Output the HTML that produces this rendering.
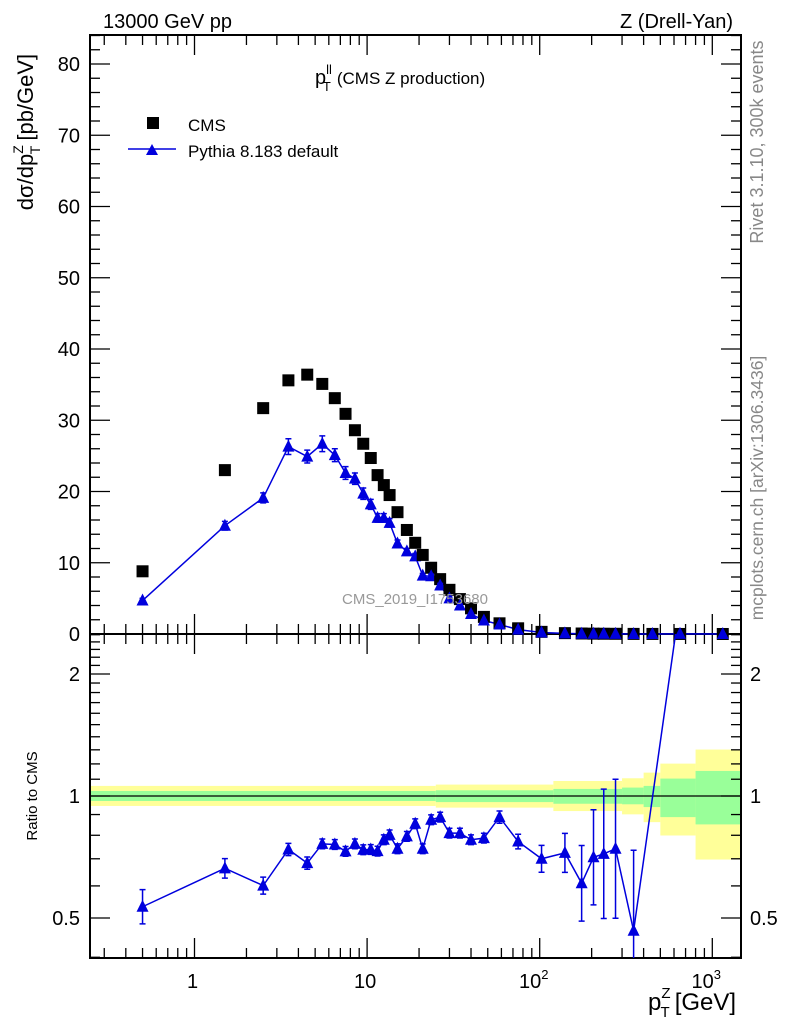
<!DOCTYPE html>
<html><head><meta charset="utf-8"><style>
body{margin:0;background:#fff;}
svg{display:block;font-family:"Liberation Sans",Arial,sans-serif;}
</style></head><body>
<svg id="chart" width="786" height="1024" viewBox="0 0 786 1024" xmlns="http://www.w3.org/2000/svg">
<g id="bands"></g>
<g id="grid"></g>
<g id="marks"></g>
<g>
<text x="103" y="28" font-size="20">13000 GeV pp</text>
<text x="733" y="28" font-size="20" text-anchor="end">Z (Drell-Yan)</text>
<text x="315" y="84" font-size="20">p<tspan font-size="13" dy="-10">ll</tspan><tspan font-size="13" dx="-9" dy="17">T</tspan><tspan font-size="17" dy="-7" dx="6">(CMS Z production)</tspan></text>
<rect x="147" y="117" width="12" height="12" fill="#000"/>
<text x="188" y="131" font-size="17">CMS</text>
<line x1="128" y1="149" x2="176" y2="149" stroke="#0000dd" stroke-width="1.5"/>
<path d="M146,155 L158,155 L152,144 Z" fill="#0000dd"/>
<text x="188" y="157" font-size="17">Pythia 8.183 default</text>
<text transform="translate(33,132) rotate(-90)" font-size="22" text-anchor="middle">dσ/dp<tspan font-size="14" dy="-10">Z</tspan><tspan font-size="14" dx="-9" dy="17">T</tspan><tspan dy="-7" dx="5">[pb/GeV]</tspan></text>
<text transform="translate(37,796) rotate(-90)" font-size="15" text-anchor="middle">Ratio to CMS</text>
<text transform="translate(763,142) rotate(-90)" font-size="18" fill="#888" text-anchor="middle">Rivet 3.1.10,  300k events</text>
<text transform="translate(763,488) rotate(-90)" font-size="17.5" fill="#888" text-anchor="middle">mcplots.cern.ch [arXiv:1306.3436]</text>
<text x="415" y="604" font-size="15" fill="#999" text-anchor="middle">CMS_2019_I1753680</text>
<text x="648" y="1010" font-size="24">p<tspan font-size="15" dy="-12">Z</tspan><tspan font-size="15" dx="-10" dy="19">T</tspan><tspan dy="-7" dx="5">[GeV]</tspan></text>
</g>
</svg>
<script>
const xCenters=[0.5,1.5,2.5,3.5,4.5,5.5,6.5,7.5,8.5,9.5,10.5,11.5,12.5,13.5,15,17,19,21,23.5,26.5,30,34.5,40,47.5,58.5,75,102.5,140,175,205,235,275,350,450,650,1150];
const cmsValues=[8.8,23.0,31.7,35.6,36.4,35.1,33.1,30.9,28.6,26.7,24.7,22.3,20.9,19.5,17.1,14.6,12.8,11.1,9.3,7.7,6.2,4.9,3.6,2.4,1.5,0.8,0.3,0.12,0.07,0.05,0.04,0.03,0.015,0.01,0.005,0.002];
const pythiaValues=[4.7,15.2,19.1,26.3,24.9,26.7,25.1,22.6,21.8,19.7,18.2,16.3,16.3,15.6,12.7,11.6,10.9,8.2,8.1,6.8,5.0,4.0,2.8,1.9,1.33,0.62,0.21,0.087,0.043,0.035,0.029,0.022,0.007,0.004,0.015,0.003];
const pythiaErr=[0.3,0.6,0.7,1.1,0.9,1.1,0.9,0.9,0.8,0.8,0.7,0.6,0.6,0.6,0.5,0.4,0.4,0.3,0.3,0.3,0.2,0.2,0.1,0.1,0.05,0.03,0.02,0.01,0.01,0.01,0.01,0.01,0.005,0.005,0.01,0.005];
const ratioValues=[0.533,0.663,0.601,0.738,0.683,0.762,0.759,0.730,0.762,0.737,0.738,0.731,0.780,0.802,0.741,0.795,0.854,0.741,0.874,0.887,0.810,0.810,0.780,0.787,0.887,0.772,0.700,0.724,0.609,0.706,0.720,0.741,0.465,null,3.0,null];
const ratioErrLog2=[0.14,0.08,0.07,0.05,0.05,0.04,0.04,0.04,0.04,0.04,0.04,0.04,0.04,0.04,0.04,0.04,0.04,0.04,0.04,0.04,0.04,0.04,0.04,0.04,0.05,0.06,0.11,0.16,0.31,0.39,0.53,0.57,0.66,0,0,0];
const bandEdges=[0.25,25,120,300,400,500,800,1500];
const yellowLo=[0.945,0.936,0.918,0.901,0.862,0.799,0.697];
const yellowHi=[1.059,1.067,1.089,1.106,1.142,1.202,1.302];
const greenLo=[0.972,0.966,0.957,0.954,0.939,0.887,0.851];
const greenHi=[1.029,1.033,1.041,1.049,1.059,1.104,1.153];
const mainTicks=[0,10,20,30,40,50,60,70,80];
const ratioTicks=[0.5,1,2];
const ratioTickLabels=["0.5","1","2"];

const NS="http://www.w3.org/2000/svg";
const L=90,R=741,T=35,M=634,B=958;
const X=v=>194.5+(Math.log10(v))*172.6;
const Y=v=>M-v*7.125;
const YR=v=>796-Math.log2(v)*122;
function mk(parent,tag,attrs){const e=document.createElementNS(NS,tag);for(const k in attrs)e.setAttribute(k,attrs[k]);parent.appendChild(e);return e;}
const g=document.getElementById('grid'),m=document.getElementById('marks'),bd=document.getElementById('bands');

for(let i=0;i<yellowLo.length;i++){
  const x1=Math.max(L,X(bandEdges[i])),x2=Math.min(R,X(bandEdges[i+1]));
  let r=mk(bd,'rect',{x:x1,y:YR(yellowHi[i]),width:x2-x1,height:YR(yellowLo[i])-YR(yellowHi[i]),fill:'#ffff99'});
  
  
  r=mk(bd,'rect',{x:x1,y:YR(greenHi[i]),width:x2-x1,height:YR(greenLo[i])-YR(greenHi[i]),fill:'#99ff99'});
  
  
}
let one=mk(g,'line',{x1:L,x2:R,y1:YR(1),y2:YR(1),stroke:'#000','stroke-width':1.2});



for(const [y1,y2,n] of [[T,M,'main-frame'],[M,B,'ratio-frame']]){
  const f=mk(g,'rect',{x:L,y:y1,width:R-L,height:y2-y1,fill:'none',stroke:'#000','stroke-width':2});
  
  
}
for(let d=-1;d<=3;d++)for(let k=1;k<10;k++){
  const v=k*Math.pow(10,d),x=X(v);if(x<L||x>R)continue;
  const len=k==1?20:10;
  for(const [y0,dir] of [[T,1],[M,-1],[M,1],[B,-1]]){
    mk(g,'line',{x1:x,x2:x,y1:y0,y2:y0+dir*len,stroke:'#000','stroke-width':1.3});
  }
}
const xl=[[1,'1'],[10,'10'],[100,'10'],[1000,'10']];
xl.forEach(([v,t],i)=>{
  const tx=mk(g,'text',{x:X(v)-2,y:988,'font-size':20,'text-anchor':'middle'});
  tx.textContent=t;
  if(i>=2){const s=mk(tx,'tspan',{'font-size':13,dy:-9});s.textContent=i==2?'2':'3';tx.setAttribute('x',X(v)-6);}
  
  
});
for(let v=0;v<=84;v+=2){
  const y=Y(v),len=v%10==0?20:10;
  mk(g,'line',{x1:L,x2:L+len,y1:y,y2:y,stroke:'#000','stroke-width':1.3});
  mk(g,'line',{x1:R,x2:R-len,y1:y,y2:y,stroke:'#000','stroke-width':1.3});
}
mainTicks.forEach(v=>{
  const tx=mk(g,'text',{x:80,y:Y(v)+7,'font-size':20,'text-anchor':'end'});
  tx.textContent=v;
  
  
});
for(let i=4;i<=25;i++){
  const v=i/10,y=YR(v);if(y<M||y>B)continue;
  const len=(i==5||i==10||i==20)?20:10;
  mk(g,'line',{x1:L,x2:L+len,y1:y,y2:y,stroke:'#000','stroke-width':1.3});
  mk(g,'line',{x1:R,x2:R-len,y1:y,y2:y,stroke:'#000','stroke-width':1.3});
}
ratioTicks.forEach((v,i)=>{
  let tx=mk(g,'text',{x:80,y:YR(v)+7,'font-size':20,'text-anchor':'end'});
  tx.textContent=ratioTickLabels[i];
  
  
  tx=mk(g,'text',{x:750,y:YR(v)+7,'font-size':20});
  tx.textContent=ratioTickLabels[i];
  
  
});

const blue='#0000dd';
function tri(parent,x,y,name){
  const p=mk(parent,'path',{d:`M${x-6},${y+5} L${x+6},${y+5} L${x},${y-7} Z`,fill:blue});
  
  
}
let pts=xCenters.map((x,i)=>[X(x),Y(pythiaValues[i])]);
let pl=mk(m,'polyline',{points:pts.map(p=>p.join(',')).join(' '),fill:'none',stroke:blue,'stroke-width':1.5});


xCenters.forEach((x,i)=>{
  const cx=X(x);
  const sq=mk(m,'rect',{x:cx-6,y:Y(cmsValues[i])-6,width:12,height:12,fill:'#000'});
  
  
  const y1=Y(pythiaValues[i]+pythiaErr[i]),y2=Y(pythiaValues[i]-pythiaErr[i]);
  mk(m,'path',{d:`M${cx},${y1}V${y2}M${cx-3},${y1}H${cx+3}M${cx-3},${y2}H${cx+3}`,stroke:blue,'stroke-width':1.5,fill:'none'});
  tri(m,cx,Y(pythiaValues[i]),'pythia-point');
});
const defs=mk(document.getElementById('chart'),'defs',{});
const cp=mk(defs,'clipPath',{id:'rclip'});
mk(cp,'rect',{x:L,y:M,width:R-L,height:B-M});
const rc=mk(m,'g',{'clip-path':'url(#rclip)'});
let rp=[];xCenters.forEach((x,i)=>{if(ratioValues[i]!==null)rp.push([X(x),YR(ratioValues[i])]);});
pl=mk(rc,'polyline',{points:rp.map(p=>p.join(',')).join(' '),fill:'none',stroke:blue,'stroke-width':1.5});


xCenters.forEach((x,i)=>{
  const r=ratioValues[i];if(r===null||r>2.5)return;
  const cx=X(x),y1=YR(r*Math.pow(2,ratioErrLog2[i])),y2=YR(r*Math.pow(2,-ratioErrLog2[i]));
  mk(rc,'path',{d:`M${cx},${y1}V${y2}M${cx-3},${y1}H${cx+3}M${cx-3},${y2}H${cx+3}`,stroke:blue,'stroke-width':1.5,fill:'none'});
  tri(rc,cx,YR(r),'ratio-point');
});
</script>
</body></html>
